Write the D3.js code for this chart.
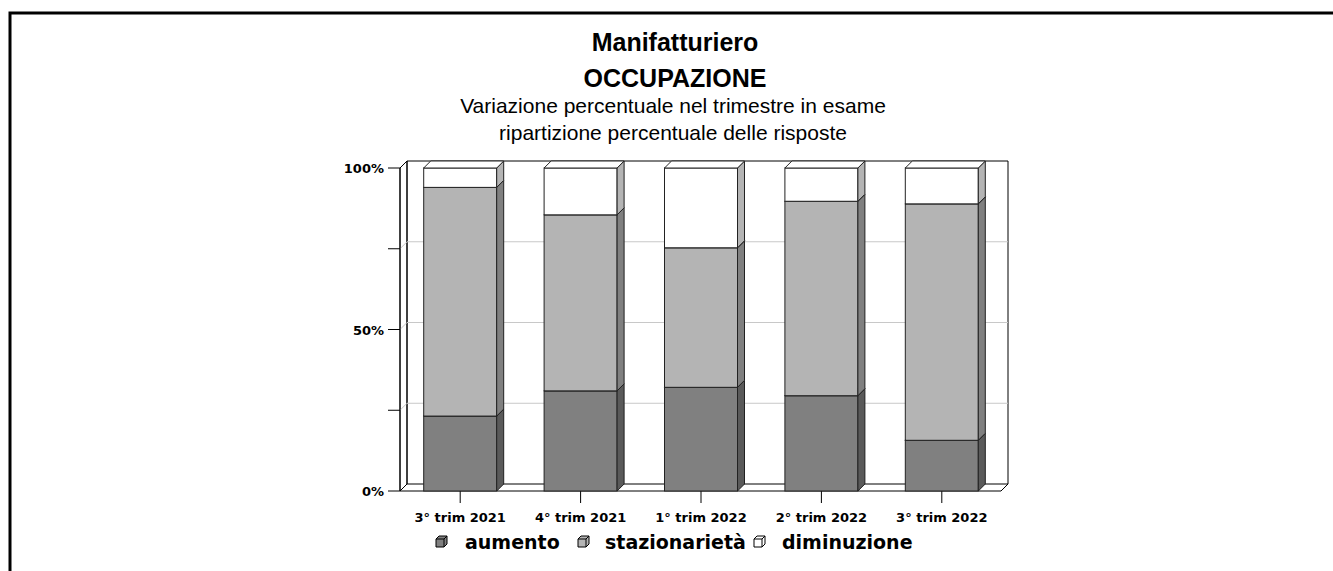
<!DOCTYPE html>
<html>
<head>
<meta charset="utf-8">
<script src="https://cdn.jsdelivr.net/npm/d3@7"></script>
<style>
  body { margin: 0; background: #fff; }
  svg { display: block; }
</style>
</head>
<body>
<div class="chart"></div>
<script>
var width = 1333;
var height = 571;

// data
var quarters = ["3° trim 2021", "4° trim 2021", "1° trim 2022", "2° trim 2022", "3° trim 2022"];
var aumento = [23.2, 31.0, 32.1, 29.5, 15.7];
var stazionarieta = [70.8, 54.5, 43.2, 60.2, 73.2];
var diminuzione = [6.0, 14.5, 24.7, 10.3, 11.1];
var seriesNames = ["aumento", "stazionarietà", "diminuzione"];
var yTicks = [0, 25, 50, 75, 100];
var yLabels = { 0: "0%", 50: "50%", 100: "100%" };

var frontColors = ["#808080", "#b4b4b4", "#ffffff"];
var sideColors = ["#5a5a5a", "#808080", "#b4b4b4"];

var depth = 7;
var titleX = 675;

var rows = quarters.map(function (q, i) {
  return { q: q, aumento: aumento[i], "stazionarietà": stazionarieta[i], diminuzione: diminuzione[i] };
});
var stacked = d3.stack().keys(seriesNames)(rows);

var svg = d3
  .select(".chart")
  .append("svg")
  .attr("width", width)
  .attr("height", height);

// outer frame
svg.append("path")
  .attr("d", "M10,600 L10,13 L1340,13")
  .attr("fill", "none")
  .attr("stroke", "#000")
  .attr("stroke-width", 3);

// titles
svg.append("text").attr("x", titleX).attr("y", 51)
  .attr("text-anchor", "middle")
  .style("font", "bold 25px 'Liberation Sans', Arial, sans-serif")
  .text("Manifatturiero");
svg.append("text").attr("x", titleX).attr("y", 87)
  .attr("text-anchor", "middle")
  .style("font", "bold 25px 'Liberation Sans', Arial, sans-serif")
  .text("OCCUPAZIONE");
svg.append("text").attr("x", titleX - 2).attr("y", 113)
  .attr("text-anchor", "middle")
  .style("font", "21px 'Liberation Sans', Arial, sans-serif")
  .text("Variazione percentuale nel trimestre in esame");
svg.append("text").attr("x", titleX - 2).attr("y", 140)
  .attr("text-anchor", "middle")
  .style("font", "21px 'Liberation Sans', Arial, sans-serif")
  .text("ripartizione percentuale delle risposte");

var x = d3.scaleBand().domain(quarters).range([400, 1002]);
var y = d3.scaleLinear().domain([0, 100]).range([491, 168]);
var x0 = 400, x1 = 1001;
var yb = y(0), yt = y(100);

var frame = svg.append("g")
  .attr("fill", "none")
  .attr("stroke", "#000")
  .attr("stroke-width", 1);

// left wall and floor
frame.append("path").attr("d",
  "M" + x0 + "," + yt + " L" + (x0 + depth) + "," + (yt - depth) +
  " L" + (x0 + depth) + "," + (yb - depth) + " L" + x0 + "," + yb + "Z");
frame.append("path").attr("d",
  "M" + x0 + "," + yb + " L" + (x0 + depth) + "," + (yb - depth) +
  " L" + (x1 + depth) + "," + (yb - depth) + " L" + x1 + "," + yb + "Z");

// gridlines on back wall
svg.append("g").selectAll("path")
  .data(yTicks.filter(function (d) { return d > 0 && d < 100; }))
  .enter().append("path")
  .attr("d", function (d) {
    return "M" + x0 + "," + y(d) + " L" + (x0 + depth) + "," + (y(d) - depth) +
      " L" + (x1 + depth) + "," + (y(d) - depth);
  })
  .attr("fill", "none")
  .attr("stroke", "#c8c8c8")
  .attr("stroke-width", 1);

// back wall outline
frame.append("path").attr("d",
  "M" + (x0 + depth) + "," + (yb - depth) + " L" + (x0 + depth) + "," + (yt - depth) +
  " L" + (x1 + depth) + "," + (yt - depth) + " L" + (x1 + depth) + "," + (yb - depth));

// y axis
var yAxis = svg.append("g");
yAxis.append("line").attr("x1", x0).attr("x2", x0).attr("y1", yt).attr("y2", yb)
  .attr("stroke", "#000");
yAxis.selectAll(".tick").data(yTicks).enter().append("line")
  .attr("x1", 388).attr("x2", x0)
  .attr("y1", function (d) { return y(d); })
  .attr("y2", function (d) { return y(d); })
  .attr("stroke", "#000");
yAxis.selectAll("text").data(yTicks.filter(function (d) { return yLabels[d]; }))
  .enter().append("text")
  .attr("x", 384)
  .attr("y", function (d) { return y(d) + 5; })
  .attr("text-anchor", "end")
  .style("font", "bold 13px 'DejaVu Sans', sans-serif")
  .text(function (d) { return yLabels[d]; });

// x axis ticks and labels
var xAxis = svg.append("g");
xAxis.selectAll("line").data(quarters).enter().append("line")
  .attr("x1", function (d) { return x(d) + x.bandwidth() / 2; })
  .attr("x2", function (d) { return x(d) + x.bandwidth() / 2; })
  .attr("y1", yb).attr("y2", yb + 12)
  .attr("stroke", "#000");
xAxis.selectAll("text").data(quarters).enter().append("text")
  .attr("x", function (d) { return x(d) + x.bandwidth() / 2; })
  .attr("y", yb + 31)
  .attr("text-anchor", "middle")
  .style("font", "bold 13px 'DejaVu Sans', sans-serif")
  .text(function (d) { return d; });

// bars
var barW = 73;
var layers = svg.append("g").selectAll("g").data(stacked).enter().append("g");

layers.each(function (layer, li) {
  var g = d3.select(this);
  layer.forEach(function (d) {
    var cx = x(d.data.q) + x.bandwidth() / 2;
    var bx = cx - barW / 2;
    var ya = y(d[1]), yz = y(d[0]);
    g.append("rect")
      .attr("x", bx).attr("y", ya)
      .attr("width", barW).attr("height", yz - ya)
      .attr("fill", frontColors[li])
      .attr("stroke", "#222").attr("stroke-width", 1);
    g.append("path")
      .attr("d", "M" + (bx + barW) + "," + yz + " L" + (bx + barW + depth) + "," + (yz - depth) +
        " L" + (bx + barW + depth) + "," + (ya - depth) + " L" + (bx + barW) + "," + ya + "Z")
      .attr("fill", sideColors[li])
      .attr("stroke", "#222").attr("stroke-width", 1);
    g.append("path")
      .attr("d", "M" + bx + "," + ya + " L" + (bx + depth) + "," + (ya - depth) +
        " L" + (bx + barW + depth) + "," + (ya - depth) + " L" + (bx + barW) + "," + ya + "Z")
      .attr("fill", frontColors[li])
      .attr("stroke", "#222").attr("stroke-width", 1);
  });
});

// legend
var legendX = [435, 577, 753];
var legendTextX = [465, 605, 782];
var legend = svg.append("g").selectAll("g").data(seriesNames).enter().append("g")
  .attr("transform", function (_, i) { return "translate(" + legendX[i] + ",535)"; });
legend.append("path")
  .attr("d", "M1,4 L4,1 L12,1 L12,9 L9,12 L1,12 Z")
  .attr("fill", function (_, i) { return frontColors[i]; })
  .attr("stroke", "#000");
legend.append("path")
  .attr("d", "M1,4 L9,4 L9,12 M9,4 L12,1")
  .attr("fill", "none")
  .attr("stroke", "#000");
legend.append("text")
  .attr("x", function (_, i) { return legendTextX[i] - legendX[i]; })
  .attr("y", 14)
  .style("font", "bold 19px 'DejaVu Sans', sans-serif")
  .text(function (d) { return d; });
</script>
</body>
</html>
